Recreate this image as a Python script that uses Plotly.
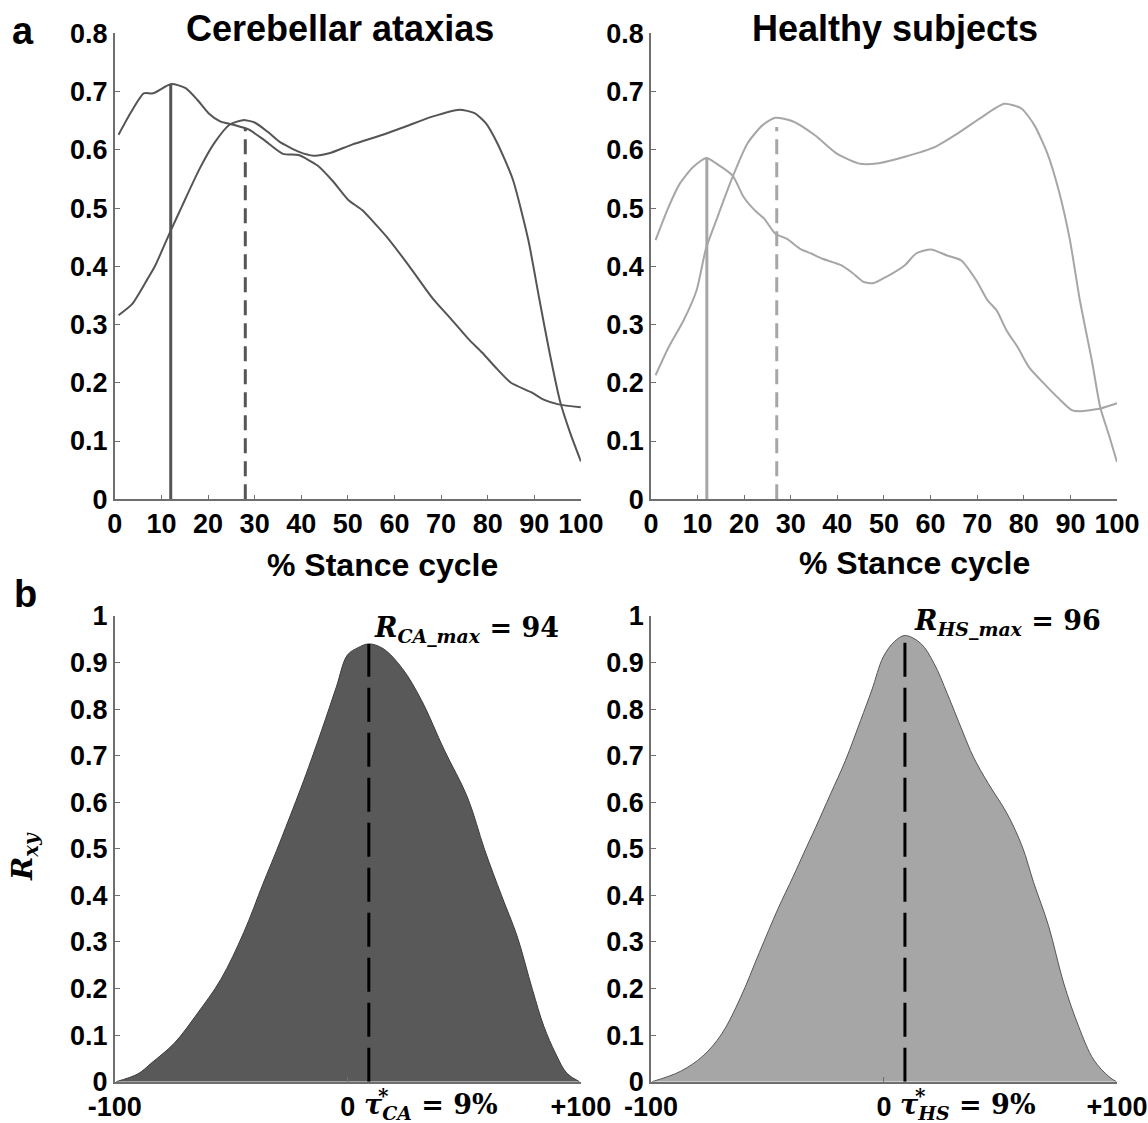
import plotly.graph_objects as go

# ---------------- data: panel a (stance cycle, %) ----------------
ca_x1 = [0.8, 3.5, 6.2, 8.2, 12.1, 15.2, 17.7, 20.1, 22.6, 25.5, 28.7, 32, 36.1, 39.4, 43.5, 46.8,
         50.1, 53, 58.3, 63.2, 68.1, 72.2, 75.9, 78.8, 82.1, 85, 89.5, 92, 95.2, 100]
ca_y1 = [0.626, 0.665, 0.697, 0.697, 0.713, 0.706, 0.686, 0.663, 0.649, 0.643, 0.635, 0.617, 0.593,
         0.591, 0.573, 0.546, 0.514, 0.497, 0.451, 0.400, 0.346, 0.309, 0.275, 0.252, 0.223, 0.200,
         0.183, 0.171, 0.163, 0.158]
ca_x2 = [0.8, 3.7, 7, 8.6, 12.1, 14.4, 18.1, 21.3, 24.6, 27.5, 30, 32.8, 35.3, 39.4, 42.7, 46, 50.9,
         57.5, 62.4, 68.1, 73.9, 77.2, 79.6, 82.1, 85.4, 88.7, 91.1, 93.2, 95.6, 97.7, 100]
ca_y2 = [0.316, 0.335, 0.378, 0.400, 0.463, 0.503, 0.566, 0.611, 0.643, 0.651, 0.647, 0.631, 0.614,
         0.597, 0.590, 0.594, 0.609, 0.626, 0.640, 0.657, 0.669, 0.663, 0.646, 0.611, 0.549, 0.446,
         0.343, 0.255, 0.166, 0.114, 0.065]
hs_x1 = [1, 3.8, 6.2, 9, 11.9, 14.3, 17.5, 19.9, 22.3, 24.3, 26.7, 29.2, 32, 34.4, 36.8, 40.8, 43.2,
         45.7, 47.7, 50.5, 54.5, 56.9, 60.1, 63.4, 66.6, 69.8, 72.2, 74.2, 76.3, 78.7, 81.1, 84.3,
         87.5, 90.3, 91.9, 96.4, 100]
hs_y1 = [0.445, 0.502, 0.542, 0.570, 0.586, 0.575, 0.556, 0.519, 0.496, 0.482, 0.456, 0.447, 0.430,
         0.422, 0.413, 0.402, 0.389, 0.373, 0.371, 0.382, 0.402, 0.422, 0.429, 0.419, 0.410, 0.376,
         0.342, 0.324, 0.290, 0.261, 0.227, 0.199, 0.173, 0.153, 0.151, 0.156, 0.165]
hs_x2 = [1, 3.8, 7, 9.8, 11.8, 14.3, 17.5, 20.7, 23.9, 26.7, 30.4, 35.2, 40, 44.9, 48.9, 54.5, 61,
         65.8, 70.6, 75.8, 79.5, 82.3, 85.1, 87.5, 89.9, 92, 94.7, 96.4, 98.4, 100]
hs_y2 = [0.213, 0.261, 0.307, 0.359, 0.430, 0.485, 0.553, 0.611, 0.642, 0.655, 0.649, 0.625, 0.593,
         0.576, 0.577, 0.588, 0.605, 0.628, 0.654, 0.679, 0.671, 0.642, 0.593, 0.530, 0.445, 0.343,
         0.234, 0.158, 0.107, 0.064]
# vertical markers: [solid, dashed]
ca_mark_x = [12, 28]
ca_mark_y = [0.713, 0.637]
hs_mark_x = [12, 27]
hs_mark_y = [0.586, 0.639]

# ---------------- data: panel b (cross-correlation) ----------------
ca_lag = [-99.4, -90, -84.3, -74.4, -64.5, -54.6, -44.7, -36.4, -30.6, -27.6, -18.9, -11.2, -4.9,
          -0.2, 4.4, 9, 15.1, 23.4, 31.6, 41.4, 51.3, 58.7, 66, 72.6, 79.2, 84.1, 89.1, 94, 99.4]
ca_r = [0.0, 0.017, 0.040, 0.083, 0.147, 0.219, 0.320, 0.425, 0.496, 0.534, 0.647, 0.755, 0.848,
        0.916, 0.932, 0.940, 0.930, 0.887, 0.819, 0.712, 0.611, 0.498, 0.399, 0.313, 0.198, 0.119,
        0.061, 0.018, 0.0]
hs_lag = [-99.5, -87.4, -77.7, -69.7, -61.6, -53.5, -45.5, -39, -34.2, -29.4, -22.9, -16.5, -10,
          -5.2, -0.3, 4.5, 9, 15.8, 21.5, 27.1, 33.5, 38.4, 44.8, 52.9, 59.4, 64.2, 70.6, 77.1,
          83.5, 90, 96.5, 99.7]
hs_r = [0.0, 0.022, 0.055, 0.102, 0.180, 0.277, 0.371, 0.440, 0.493, 0.545, 0.618, 0.690, 0.776,
        0.841, 0.912, 0.945, 0.958, 0.941, 0.898, 0.834, 0.755, 0.697, 0.640, 0.575, 0.504, 0.428,
        0.335, 0.212, 0.119, 0.047, 0.011, 0.0]
ca_tau, ca_rmax = 9, 0.94
hs_tau, hs_rmax = 9, 0.958

top_yticks = [0, 0.1, 0.2, 0.3, 0.4, 0.5, 0.6, 0.7, 0.8]
top_ylabels = ["0", "0.1", "0.2", "0.3", "0.4", "0.5", "0.6", "0.7", "0.8"]
top_xticks = [0, 10, 20, 30, 40, 50, 60, 70, 80, 90, 100]
bot_yticks = [0, 0.1, 0.2, 0.3, 0.4, 0.5, 0.6, 0.7, 0.8, 0.9, 1]
bot_ylabels = ["0", "0.1", "0.2", "0.3", "0.4", "0.5", "0.6", "0.7", "0.8", "0.9", "1"]
bot_xticks = [-100, 0, 100]
bot_xlabels = ["-100", "0", "+100"]

DARK = "#555555"
LIGHT = "#a6a6a6"
FILL_DARK = "#595959"
FILL_LIGHT = "#a6a6a6"
AX = "#6e6e6e"
SANS = "Liberation Sans, Arial, sans-serif"
SERIF = "DejaVu Serif, Liberation Serif, serif"

fig = go.Figure()


def curve(x, y, xa, ya, color, width=2, dash="solid", smooth=True):
    ln = dict(color=color, width=width, dash=dash)
    if smooth:
        ln.update(shape="spline", smoothing=0.6)
    fig.add_trace(go.Scatter(x=x, y=y, xaxis=xa, yaxis=ya, mode="lines", line=ln,
                             showlegend=False, hoverinfo="skip"))


# panel a
curve(ca_x1, ca_y1, "x", "y", DARK)
curve(ca_x2, ca_y2, "x", "y", DARK)
curve([ca_mark_x[0]] * 2, [0, ca_mark_y[0]], "x", "y", DARK, 3, smooth=False)
curve([ca_mark_x[1]] * 2, [0, ca_mark_y[1]], "x", "y", DARK, 3, "15px,8px", smooth=False)
curve(hs_x1, hs_y1, "x2", "y2", LIGHT)
curve(hs_x2, hs_y2, "x2", "y2", LIGHT)
curve([hs_mark_x[0]] * 2, [0, hs_mark_y[0]], "x2", "y2", LIGHT, 3, smooth=False)
curve([hs_mark_x[1]] * 2, [0, hs_mark_y[1]], "x2", "y2", LIGHT, 3, "15px,8px", smooth=False)

# panel b
fig.add_trace(go.Scatter(x=ca_lag, y=ca_r, xaxis="x3", yaxis="y3", mode="lines", fill="tozeroy",
                         fillcolor=FILL_DARK, line=dict(color="#3c3c3c", width=1, shape="spline",
                                                        smoothing=1.0),
                         showlegend=False, hoverinfo="skip"))
fig.add_trace(go.Scatter(x=hs_lag, y=hs_r, xaxis="x4", yaxis="y4", mode="lines", fill="tozeroy",
                         fillcolor=FILL_LIGHT, line=dict(color="#555555", width=1, shape="spline",
                                                         smoothing=1.0),
                         showlegend=False, hoverinfo="skip"))
curve([ca_tau] * 2, [0, ca_rmax], "x3", "y3", "black", 3, "34px,11px", smooth=False)
curve([hs_tau] * 2, [0, hs_rmax], "x4", "y4", "black", 3, "34px,11px", smooth=False)

tickfont = dict(family=SANS, size=27, color="black", weight="bold")


def axis(domain, anchor, rng, tickvals, ticktext, standoff):
    return dict(domain=domain, anchor=anchor, range=rng, tickvals=tickvals, ticktext=ticktext,
                showline=True, linecolor=AX, linewidth=1.5, ticks="inside", ticklen=5,
                tickcolor=AX, tickwidth=1, showgrid=False, zeroline=False, tickfont=tickfont,
                ticklabelstandoff=standoff, fixedrange=True, automargin=False)


XL = [0.1, 0.506]
XR = [0.567, 0.973]
YT = [0.5554, 0.9703]
YB = [0.0368, 0.4515]
top_xlabels = [str(v) for v in top_xticks]

fig.update_layout(
    width=1148, height=1123, margin=dict(l=0, r=0, t=0, b=0, autoexpand=False),
    paper_bgcolor="white", plot_bgcolor="white", showlegend=False,
    xaxis=axis(XL, "y", [0, 100], top_xticks, top_xlabels, 0),
    yaxis=axis(YT, "x", [0, 0.8], top_yticks, top_ylabels, 0),
    xaxis2=axis(XR, "y2", [0, 100], top_xticks, top_xlabels, 0),
    yaxis2=axis(YT, "x2", [0, 0.8], top_yticks, top_ylabels, 0),
    xaxis3=axis(XL, "y3", [-100, 100], bot_xticks, bot_xlabels, 0),
    yaxis3=axis(YB, "x3", [0, 1], bot_yticks, bot_ylabels, 0),
    xaxis4=axis(XR, "y4", [-100, 100], bot_xticks, bot_xlabels, 0),
    yaxis4=axis(YB, "x4", [0, 1], bot_yticks, bot_ylabels, 0),
)


def ann(text, x, y, size, family=SANS, xref="paper", yref="paper", xanchor="center",
        yanchor="middle", angle=0, xshift=0):
    fig.add_annotation(text=text, x=x, y=y, xref=xref, yref=yref, xanchor=xanchor,
                       yanchor=yanchor, showarrow=False, textangle=angle, xshift=xshift,
                       font=dict(family=family, size=size, color="black"))


def py(pix):
    return 1 - pix / 1123


ann("<b>a</b>", 23 / 1148, py(31), 38)
ann("<b>b</b>", 25 / 1148, py(594), 38)
ann("<b>Cerebellar ataxias</b>", 340 / 1148, py(28), 36)
ann("<b>Healthy subjects</b>", 895 / 1148, py(28), 36)
ann("<b>% Stance cycle</b>", 382 / 1148, py(565), 32)
ann("<b>% Stance cycle</b>", 914 / 1148, py(563), 32)
ann("<b><i>R<sub>xy</sub></i></b>", 24 / 1148, py(857), 28, SERIF, angle=-90)
ann("<b><i>R</i><sub><i>CA_max</i></sub> = 94</b>", ca_tau, py(629), 27, SERIF,
    xref="x3", xanchor="left", xshift=3)
ann("<b><i>R</i><sub><i>HS_max</i></sub> = 96</b>", hs_tau, py(622), 27, SERIF,
    xref="x4", xanchor="left", xshift=7)
ann("<b><i>τ</i><sub><i>CA</i></sub> = 9%</b>", ca_tau, py(1106), 27, SERIF,
    xref="x3", xanchor="left", xshift=-7)
ann("<b><i>τ</i><sub><i>HS</i></sub> = 9%</b>", hs_tau, py(1106), 27, SERIF,
    xref="x4", xanchor="left", xshift=-7)
ann("<b>*</b>", ca_tau, py(1096), 20, SERIF, xref="x3", xshift=15)
ann("<b>*</b>", hs_tau, py(1096), 20, SERIF, xref="x4", xshift=16)

fig.write_html("out.html")
